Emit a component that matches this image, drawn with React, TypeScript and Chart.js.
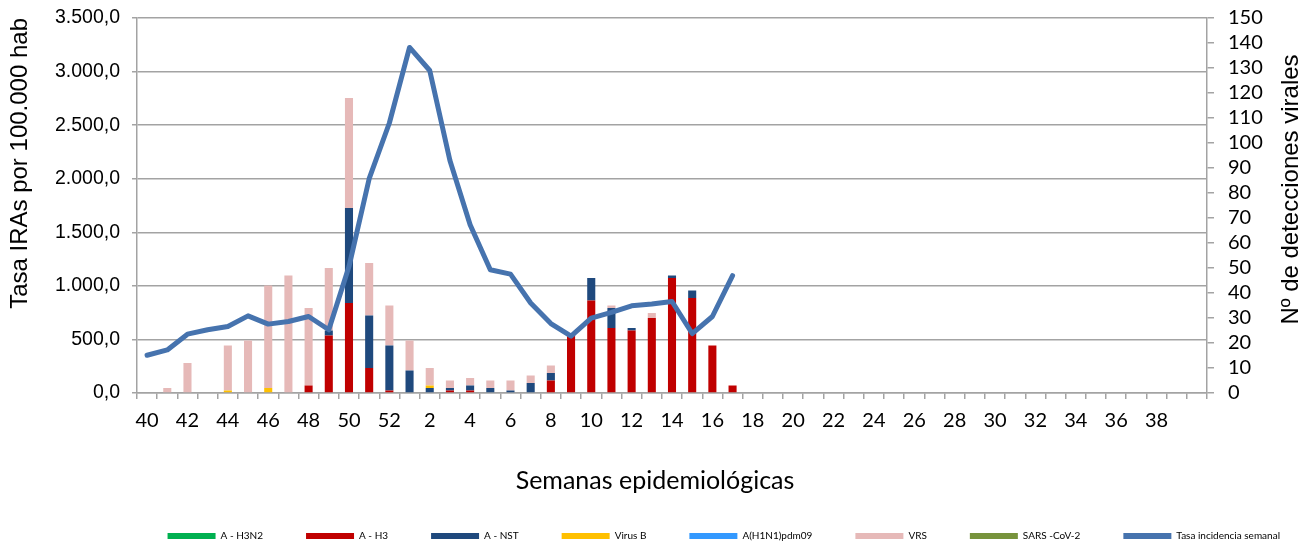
import React, { useEffect, useRef } from 'react';
import { Chart, registerables } from 'chart.js';
Chart.register(...registerables);

const weeks = [
  '40','41','42','43','44','45','46','47','48','49','50','51','52',
  '1','2','3','4','5','6','7','8','9','10','11','12','13','14','15','16','17','18','19','20',
  '21','22','23','24','25','26','27','28','29','30','31','32','33','34','35','36','37','38','39',''
];

const h3n2 = new Array(53).fill(0);
const h3 = [0,0,0,0,0,0,0,0,3,23,36,10,1, 0,0,1,1,0,0,0,5,24,37,26,25,30,46,38,19,3,0,0,0, 0,0,0,0,0,0,0,0,0,0,0,0,0,0,0,0,0,0,0,0];
const nst = [0,0,0,0,0,0,0,0,0,2,38,21,18, 9,2,1,2,2,1,4,3,0,9,8,1,0,1,3,0,0,0,0,0, 0,0,0,0,0,0,0,0,0,0,0,0,0,0,0,0,0,0,0,0];
const virusB = [0,0,0,0,1,0,2,0,0,0,0,0,0, 0,1,0,0,0,0,0,0,0,0,0,0,0,0,0,0,0,0,0,0, 0,0,0,0,0,0,0,0,0,0,0,0,0,0,0,0,0,0,0,0];
const h1n1 = new Array(53).fill(0);
const vrs = [0,2,12,0,18,21,41,47,31,25,44,21,16, 12,7,3,3,3,4,3,3,0,0,1,0,2,0,0,0,0,0,0,0, 0,0,0,0,0,0,0,0,0,0,0,0,0,0,0,0,0,0,0,0];
const sars = new Array(53).fill(0);
const tasa: (number | null)[] = [
  352,402,549,590,620,720,643,667,714,590,1180,2000,2520,
  3225,3010,2170,1570,1150,1110,840,648,530,699,752,814,830,854,555,714,1095,
  null,null,null,null,null,null,null,null,null,null,null,null,null,null,null,null,null,null,null,null,null,null,null
];

const leftTicksMax = 3500;
const leftStep = 500;
const rightTicksMax = 150;
const rightStep = 10;

const leftTitle = 'Tasa IRAs por 100.000 hab';
const rightTitle = 'Nº de detecciones virales';
const xTitle = 'Semanas epidemiológicas';

const lineColor = '#4673AE';
const gridColor = '#a3a3a3';

function fmtEs(v: number): string {
  const [int, dec] = v.toFixed(1).split('.');
  const withDots = int.replace(/\B(?=(\d{3})+(?!\d))/g, '.');
  return withDots + ',' + dec;
}

const titlesPlugin = {
  id: 'titlesPlugin',
  afterDraw(chart: any) {
    const { ctx, chartArea } = chart;
    ctx.save();
    ctx.fillStyle = '#000';
    ctx.textAlign = 'center';
    ctx.textBaseline = 'middle';
    ctx.font = '25px Lato';
    ctx.fillText(xTitle, (chartArea.left + chartArea.right) / 2 - 17, chartArea.bottom + 88);
    ctx.font = '24px "Liberation Sans", Arial, sans-serif';
    ctx.translate(chart.width - 12, (chartArea.top + chartArea.bottom) / 2 - 16);
    ctx.rotate(-Math.PI / 2);
    ctx.fillText(rightTitle, 0, 0);
    ctx.restore();
  },
};

export default function App() {
  const ref = useRef<HTMLCanvasElement>(null);
  useEffect(() => {
    const bar = (label: string, data: number[], color: string) => ({
      type: 'bar' as const,
      label,
      data,
      backgroundColor: color,
      borderWidth: 0,
      yAxisID: 'y1',
      order: 1,
      barPercentage: 0.4,
      categoryPercentage: 1,
    });
    const chart = new Chart(ref.current!, {
      type: 'bar',
      data: {
        labels: weeks,
        datasets: [
          bar('A - H3N2', h3n2, '#00B050'),
          bar('A - H3', h3, '#C00000'),
          bar('A - NST', nst, '#1F497D'),
          bar('Virus B', virusB, '#FFC000'),
          bar('A(H1N1)pdm09', h1n1, '#3399FF'),
          bar('VRS', vrs, '#E6B9B8'),
          bar('SARS -CoV-2', sars, '#77933C'),
          {
            type: 'line' as const,
            label: 'Tasa incidencia semanal',
            data: tasa,
            borderColor: lineColor,
            backgroundColor: lineColor,
            borderWidth: 5,
            pointRadius: 0,
            pointHoverRadius: 0,
            pointBorderWidth: 0,
            tension: 0,
            yAxisID: 'y',
            order: 0,
            borderCapStyle: 'round',
            borderJoinStyle: 'round',
          } as any,
        ],
      },
      options: {
        animation: false,
        responsive: true,
        maintainAspectRatio: false,
        layout: { autoPadding: false, padding: { top: 18, left: 0, right: -20, bottom: -6 } },
        plugins: {
          tooltip: { enabled: false },
          legend: {
            position: 'bottom',
            align: 'end',
            labels: {
              boxWidth: 48,
              boxHeight: 6,
              padding: 43,
              color: '#000',
              font: { family: 'Lato', size: 10 },
              generateLabels: (c: any) => {
                const items = Chart.defaults.plugins.legend.labels.generateLabels(c);
                return items
                  .sort((a: any, b: any) => a.datasetIndex - b.datasetIndex)
                  .map((it: any) => {
                    it.lineWidth = 0;
                    it.strokeStyle = it.fillStyle;
                    return it;
                  });
              },
            },
          },
        },
        scales: {
          x: {
            stacked: true,
            offset: true,
            grid: { offset: true, drawOnChartArea: false, drawTicks: true, tickLength: 6, color: gridColor, lineWidth: 1.5 },
            border: { color: gridColor, width: 1.5 },
            ticks: {
              autoSkip: false,
              maxRotation: 0,
              padding: 10,
              color: '#000',
              font: { family: 'Lato', size: 20 },
              callback: (_v: any, i: number) => (i % 2 === 0 ? weeks[i] : ''),
            },
            afterFit: (s: any) => { s.height = 95; },
          },
          y: {
            position: 'left',
            min: 0,
            max: leftTicksMax,
            stacked: false,
            ticks: {
              stepSize: leftStep,
              padding: 12,
              color: '#000',
              font: { family: '"Liberation Sans", Arial', size: 19.5, lineHeight: 0.3 },
              callback: (v: any) => fmtEs(Number(v)),
            },
            grid: { drawOnChartArea: true, drawTicks: true, tickLength: 5, color: gridColor, lineWidth: 1.5 },
            border: { color: gridColor, width: 1.5 },
            title: {
              display: true,
              text: leftTitle,
              align: 'end',
              color: '#000',
              font: { family: '"Liberation Sans", Arial', size: 24 },
              padding: { top: 6, bottom: 0 },
            },
            afterFit: (s: any) => { s.width = 137; },
          },
          y1: {
            position: 'right',
            min: 0,
            max: rightTicksMax,
            stacked: true,
            ticks: {
              stepSize: rightStep,
              autoSkip: false,
              padding: 14,
              color: '#000',
              font: { family: 'Lato', size: 20, lineHeight: 0.3 },
            },
            grid: { drawOnChartArea: false, drawTicks: true, tickLength: 7, color: gridColor, lineWidth: 1.5 },
            border: { color: gridColor, width: 1.5 },
            afterFit: (s: any) => { s.width = 116; },
          },
        },
      } as any,
      plugins: [titlesPlugin],
    });
    return () => chart.destroy();
  }, []);
  return (
    <div style={{ position: 'fixed', left: 0, top: 0, width: 1303, height: 545, background: '#fff' }}>
      <canvas ref={ref} />
    </div>
  );
}
